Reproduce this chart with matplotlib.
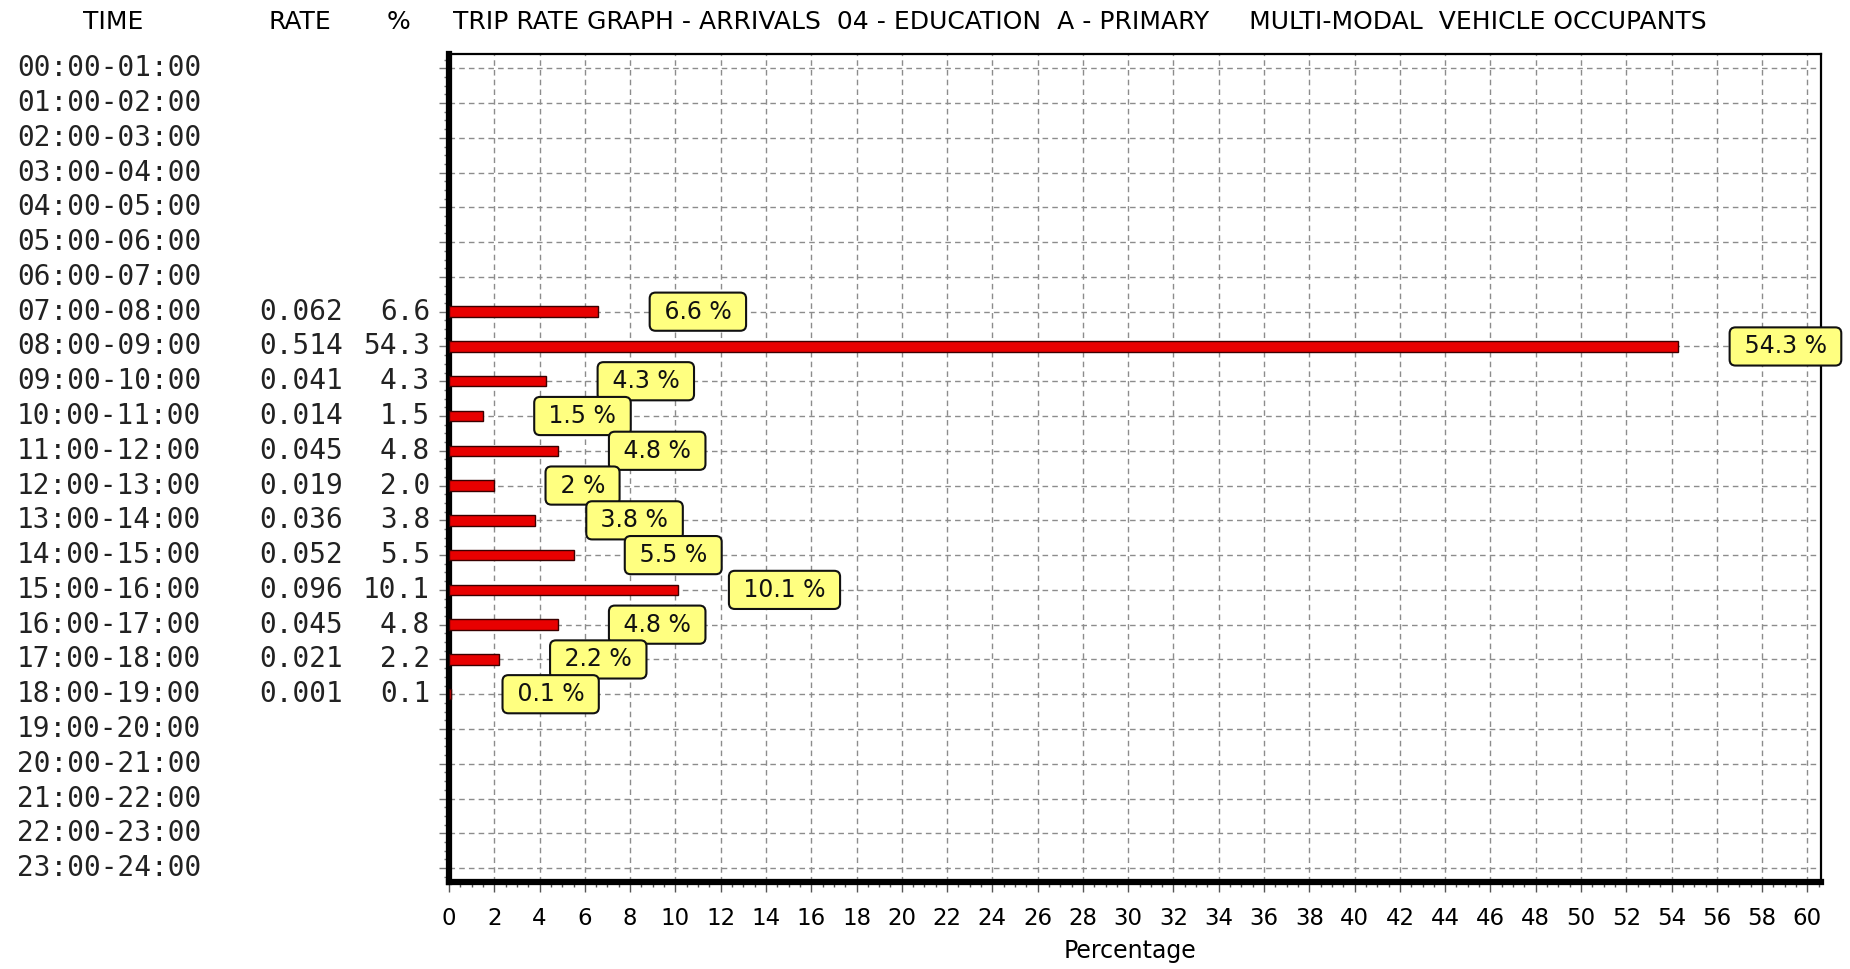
import matplotlib
matplotlib.use("Agg")
import matplotlib.pyplot as plt
from matplotlib.transforms import blended_transform_factory
from matplotlib.ticker import MultipleLocator
import numpy as np

# hourly bands, trip rates and share of arrivals
times = [f"{h:02d}:00-{h + 1:02d}:00" for h in range(24)]
rates = [None] * 7 + [0.062, 0.514, 0.041, 0.014, 0.045, 0.019, 0.036,
                      0.052, 0.096, 0.045, 0.021, 0.001] + [None] * 5
pcts = [None] * 7 + [6.6, 54.3, 4.3, 1.5, 4.8, 2.0, 3.8,
                     5.5, 10.1, 4.8, 2.2, 0.1] + [None] * 5

title = ("TRIP RATE GRAPH - ARRIVALS  04 - EDUCATION  A - PRIMARY     "
         "MULTI-MODAL  VEHICLE OCCUPANTS")

SANS = "DejaVu Sans"
MONO = "DejaVu Sans Mono"

fig = plt.figure(figsize=(18.5, 9.69), dpi=100)
ax = fig.add_axes([449 / 1850, 1 - 882 / 969, (1821 - 449) / 1850, (882 - 54) / 969])

rows = np.arange(len(times))
vals = np.array([p if p is not None else 0 for p in pcts])
has = np.array([p is not None for p in pcts])

ax.barh(rows[has], vals[has], height=0.3, color="#e80000",
        edgecolor="#3a0000", linewidth=1.0, zorder=3)

for r, p in zip(rows[has], vals[has]):
    ax.annotate(f" {p:g} % ", xy=(p, r), xytext=(42, 0), textcoords="offset points",
                ha="left", va="center", fontsize=17, color="#111111",
                bbox=dict(boxstyle="round,pad=0.3,rounding_size=0.25",
                          fc="#ffff80", ec="#111111", lw=1.5),
                zorder=5, annotation_clip=False)

ax.set_xlim(0, 60.6)
ax.set_ylim(23.4, -0.41)

ax.xaxis.set_major_locator(MultipleLocator(2))
ax.xaxis.set_minor_locator(MultipleLocator(0.5))
ax.set_yticks(rows)
ax.yaxis.set_minor_locator(MultipleLocator(0.25))
ax.set_yticklabels([])

ax.tick_params(axis="x", which="major", length=7, width=1, color="#555555",
               pad=11, labelsize=16.5)
ax.tick_params(axis="x", which="minor", length=3.5, width=1, color="#555555")
ax.tick_params(axis="y", which="major", length=7, width=1, color="#777777")
ax.tick_params(axis="y", which="minor", length=3.5, width=1, color="#777777")

ax.grid(True, which="major", color="#8c8c8c", linestyle=(0, (4, 3)), linewidth=1, zorder=1)
ax.set_axisbelow(True)

for side, lw in [("left", 4.5), ("bottom", 4.5), ("top", 1.6), ("right", 1.6)]:
    ax.spines[side].set_linewidth(lw)
    ax.spines[side].set_color("black")

# table columns to the left of the plot
tr = blended_transform_factory(fig.transFigure, ax.transData)
for r, t in enumerate(times):
    fig.text(17 / 1850, r, t, transform=tr, ha="left", va="center",
             family=MONO, fontsize=20, color="#222222")
    if rates[r] is not None:
        fig.text(343 / 1850, r, f"{rates[r]:.3f}", transform=tr, ha="right",
                 va="center", family=MONO, fontsize=20, color="#222222")
        fig.text(430 / 1850, r, f"{pcts[r]:.1f}", transform=tr, ha="right",
                 va="center", family=MONO, fontsize=20, color="#222222")

hy = 1 - 22 / 969
fig.text(113 / 1850, hy, "TIME", ha="center", va="center", family=SANS, fontsize=18)
fig.text(300 / 1850, hy, "RATE", ha="center", va="center", family=SANS, fontsize=18)
fig.text(398 / 1850, hy, "%", ha="center", va="center", family=SANS, fontsize=18)
fig.text(453 / 1850, hy, title, ha="left", va="center", family=SANS, fontsize=18)

fig.text(1130 / 1850, 1 - 951 / 969, "Percentage", ha="center", va="center",
         family=SANS, fontsize=17)

fig.savefig("out.png", dpi=100, facecolor="white")
